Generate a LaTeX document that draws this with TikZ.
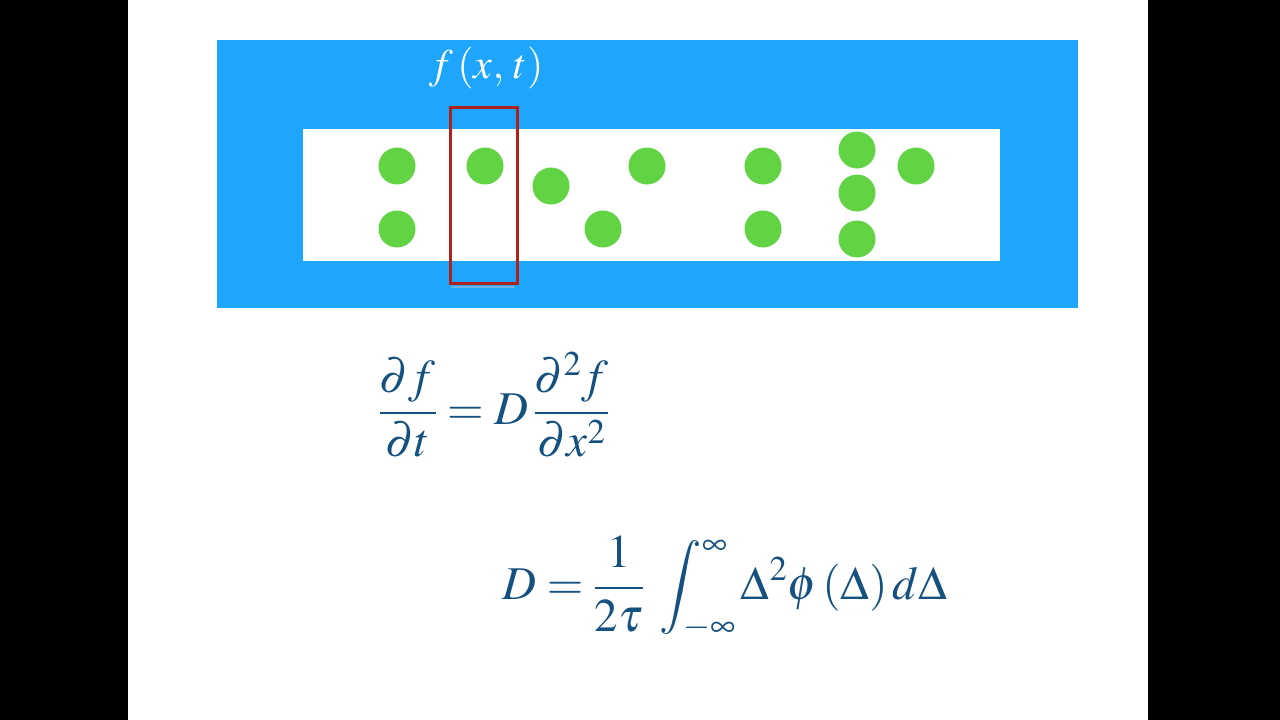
\documentclass[tikz,border=0pt]{standalone}
\usepackage{mathptmx}
\definecolor{slideblue}{RGB}{30,165,252}
\definecolor{dotgreen}{RGB}{98,212,68}
\definecolor{boxred}{RGB}{176,32,28}
\definecolor{eqblue}{RGB}{20,80,128}
\tikzset{
  dot/.style={circle,fill=dotgreen,minimum size=37pt,inner sep=0pt},
  eq/.style={text=eqblue,inner sep=0pt,font=\fontsize{47}{56}\selectfont},
}
\begin{document}
\begin{tikzpicture}[x=1pt,y=-1pt]
\useasboundingbox (0,0) rectangle (1280,720);
\fill[black] (0,0) rectangle (128,720);
\fill[black] (1148,0) rectangle (1280,720);
\fill[white] (128,0) rectangle (1148,720);
\fill[slideblue] (217,40) rectangle (1078,308);
\fill[white] (303,129) rectangle (1000,261);
\node[dot] (d1) at (397,166) {};
\node[dot] (d2) at (397,229) {};
\node[dot] (d3) at (485,166) {};
\node[dot] (d4) at (551,186) {};
\node[dot] (d5) at (603,229) {};
\node[dot] (d6) at (647,166) {};
\node[dot] (d7) at (763,166) {};
\node[dot] (d8) at (763,229) {};
\node[dot] (d9) at (857,150) {};
\node[dot] (d10) at (857,193) {};
\node[dot] (d11) at (857,239) {};
\node[dot] (d12) at (916,166) {};
\draw[black!25,line width=2pt,opacity=0.5] (451,287) -- (515,287);
\draw[boxred,line width=3pt] (450,107) rectangle (517,283);
\node[text=white,inner sep=0pt,font=\fontsize{42}{50}\selectfont] (fxt) at (486,68) {$f\,(x,\,t)$};
\node[eq] (eq1) at (494,405) {$\displaystyle\frac{\partial f}{\partial t} = D\,\frac{\partial^2 f}{\partial x^2}$};
\node[eq] (eq2) at (725,588) {$\displaystyle D = \frac{1}{2\tau}\;\int_{-\infty}^{\infty}\Delta^2\phi\,(\Delta)\,d\Delta$};
\end{tikzpicture}
\end{document}
